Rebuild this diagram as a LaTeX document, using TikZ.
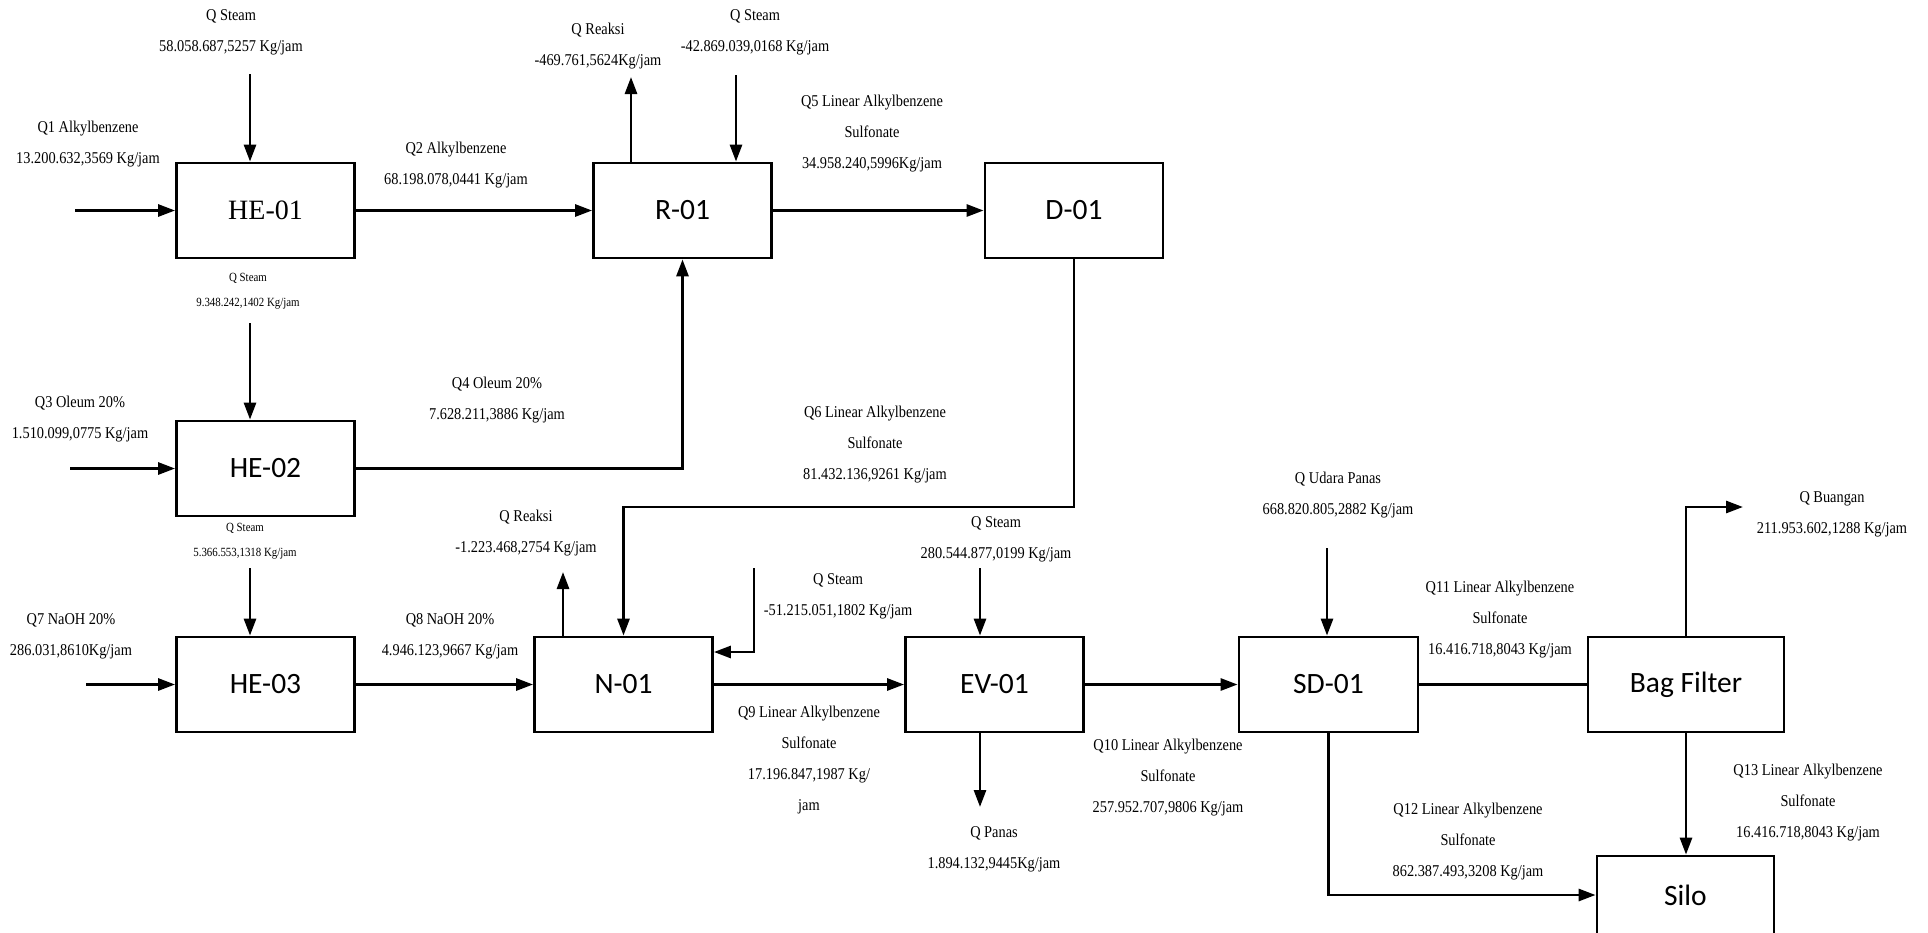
\documentclass[tikz,border=0pt]{standalone}
\usepackage{fontspec}
\usetikzlibrary{arrows.meta}
\newfontfamily\lblfont[FakeStretch=0.87]{Liberation Serif}
\newfontfamily\boxfont{Carlito}
\newfontfamily\boxserif{Liberation Serif}
\tikzset{
  unit/.style={draw,line width=2.8pt,minimum width=178pt,minimum height=95pt,
               inner sep=0pt,font=\boxfont\fontsize{29.5}{34}\selectfont},
  lbl/.style={align=center,inner sep=0pt,text=black,
              font=\lblfont\fontsize{16.5}{31}\selectfont},
  slbl/.style={lbl,font=\lblfont\fontsize{12.5}{25}\selectfont},
  flow/.style={-{Triangle[length=17pt,width=12pt]},line width=2.8pt},
  pipe/.style={line width=2.8pt},
}
\begin{document}
\begin{tikzpicture}[x=1pt,y=-1pt]
  \useasboundingbox (0,0) rectangle (1928,932);
  \clip (0,0) rectangle (1928,932);
  \node[unit,font=\boxserif\fontsize{28}{32}\selectfont] (he1) at (265.5,210.5) {HE-01};
  \node[unit] (r1) at (682.5,210.5) {R-01};
  \node[unit] (d1) at (1074,210.5) {D-01};
  \node[unit] (he2) at (265.5,468.5) {HE-02};
  \node[unit] (he3) at (265.5,684.5) {HE-03};
  \node[unit] (n1) at (623.5,684.5) {N-01};
  \node[unit] (ev1) at (994.5,684.5) {EV-01};
  \node[unit,minimum width=179pt] (sd1) at (1328.5,684.5) {SD-01};
  \node[unit,minimum width=196pt] (bf) at (1686,684.5) {Bag Filter};
  \node[unit,minimum width=177pt,minimum height=78pt] (silo) at (1685.5,895) {Silo};
  % labels
  \node[lbl] (q1) at (88,144) {Q1 Alkylbenzene\\13.200.632,3569 Kg/jam};
  \node[lbl] (qs1) at (231,32.5) {Q Steam\\58.058.687,5257 Kg/jam};
  \node[lbl] (q2) at (456,165.5) {Q2 Alkylbenzene\\68.198.078,0441 Kg/jam};
  \node[lbl] (qr1) at (598,46.5) {Q Reaksi\\-469.761,5624Kg/jam};
  \node[lbl] (qs2) at (755,32.5) {Q Steam\\-42.869.039,0168 Kg/jam};
  \node[lbl] (q5) at (872,133.5) {Q5 Linear Alkylbenzene\\Sulfonate\\34.958.240,5996Kg/jam};
  \node[slbl] (qs3) at (248,291) {Q Steam\\9.348.242,1402 Kg/jam};
  \node[lbl] (q3) at (80,419) {Q3 Oleum 20\%\\1.510.099,0775 Kg/jam};
  \node[lbl] (q4) at (497,400) {Q4 Oleum 20\%\\7.628.211,3886 Kg/jam};
  \node[lbl] (q6) at (875,445) {Q6 Linear Alkylbenzene\\Sulfonate\\81.432.136,9261 Kg/jam};
  \node[slbl] (qs4) at (245,541.5) {Q Steam\\5.366.553,1318 Kg/jam};
  \node[lbl] (qr2) at (526,533.5) {Q Reaksi\\-1.223.468,2754 Kg/jam};
  \node[lbl] (qs5) at (838,596.5) {Q Steam\\-51.215.051,1802 Kg/jam};
  \node[lbl] (qs6) at (996,539) {Q Steam\\280.544.877,0199 Kg/jam};
  \node[lbl] (qu) at (1338,495.5) {Q Udara Panas\\668.820.805,2882 Kg/jam};
  \node[lbl] (qb) at (1832,514) {Q Buangan\\211.953.602,1288 Kg/jam};
  \node[lbl] (q7) at (71,636) {Q7 NaOH 20\%\\286.031,8610Kg/jam};
  \node[lbl] (q8) at (450,636) {Q8 NaOH 20\%\\4.946.123,9667 Kg/jam};
  \node[lbl] (q11) at (1500,619.5) {Q11 Linear Alkylbenzene\\Sulfonate\\16.416.718,8043 Kg/jam};
  \node[lbl] (q9) at (809,760) {Q9 Linear Alkylbenzene\\Sulfonate\\17.196.847,1987 Kg/\\jam};
  \node[lbl] (q10) at (1168,778) {Q10 Linear Alkylbenzene\\Sulfonate\\257.952.707,9806 Kg/jam};
  \node[lbl] (qp) at (994,849) {Q Panas\\1.894.132,9445Kg/jam};
  \node[lbl] (q12) at (1468,841.5) {Q12 Linear Alkylbenzene\\Sulfonate\\862.387.493,3208 Kg/jam};
  \node[lbl] (q13) at (1808,802.5) {Q13 Linear Alkylbenzene\\Sulfonate\\16.416.718,8043 Kg/jam};
  % free ends
  \coordinate (in1) at (75,210.5);
  \coordinate (in3) at (70,468.5);
  \coordinate (in7) at (86,684.5);
  \coordinate (st1) at (250,74);
  \coordinate (st2) at (250,323);
  \coordinate (st3) at (250,568);
  \coordinate (rx1) at (631,77);
  \coordinate (st4) at (736,75);
  \coordinate (k6) at (1074,507);
  \coordinate (rx2) at (563,572);
  \coordinate (st5) at (754,568);
  \coordinate (k5) at (754,652);
  \coordinate (st6) at (980,568);
  \coordinate (pn) at (980,807);
  \coordinate (st7) at (1327,548);
  \coordinate (bu) at (1743,507);
  % streams
  \draw[flow] (in1) -- (he1.west);
  \draw[flow] (in3) -- (he2.west);
  \draw[flow] (in7) -- (he3.west);
  \draw[flow] (st1) -- (st1 |- he1.north);
  \draw[flow] (st2) -- (st2 |- he2.north);
  \draw[flow] (st3) -- (st3 |- he3.north);
  \draw[flow] (he1) -- (r1);
  \draw[flow] (rx1 |- r1.north) -- (rx1);
  \draw[flow] (st4) -- (st4 |- r1.north);
  \draw[flow] (r1) -- (d1);
  \draw[flow] (he2.east) -| (r1.south);
  \draw[flow] (d1.south) -- (k6) -| (n1.north);
  \draw[flow] (he3) -- (n1);
  \draw[flow] (rx2 |- n1.north) -- (rx2);
  \draw[flow] (st5) -- (k5) -- (k5 -| n1.east);
  \draw[flow] (n1) -- (ev1);
  \draw[flow] (st6) -- (st6 |- ev1.north);
  \draw[flow] (pn |- ev1.south) -- (pn);
  \draw[flow] (ev1) -- (sd1);
  \draw[flow] (st7) -- (st7 |- sd1.north);
  \draw[pipe] (sd1) -- (bf);
  \draw[flow] (bf.north) |- (bu);
  \draw[flow] (bf.south) -- (bf.south |- silo.north);
  \draw[flow] (sd1.south) |- (silo.west);
\end{tikzpicture}
\end{document}
